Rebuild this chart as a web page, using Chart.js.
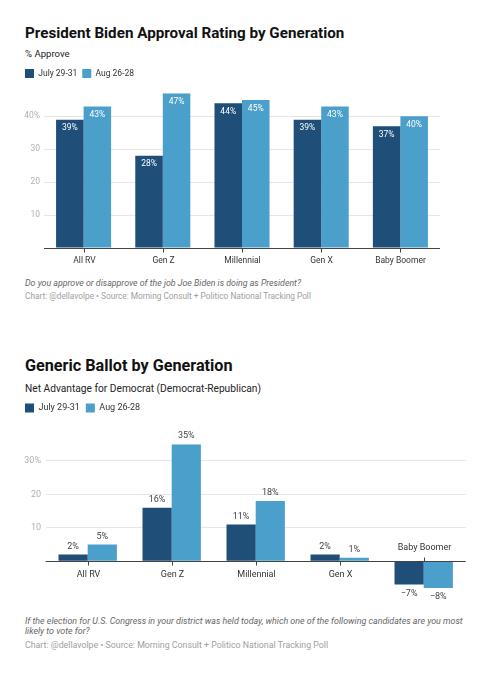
<!DOCTYPE html>
<html>
<head>
<meta charset="utf-8">
<script src="https://cdn.jsdelivr.net/npm/chart.js@4.4.1/dist/chart.umd.min.js"></script>
<style>
  body { margin: 0; background: #fff; font-family: Roboto, sans-serif; }
  #page { position: relative; width: 493px; height: 680px; overflow: hidden; }
  .t { position: absolute; left: 25px; white-space: nowrap; }
  .title { font-weight: 700; color: #111; }
  .sub { color: #222; }
  .note { font-style: italic; color: #666; }
  .src { color: #a0a0a0; }
  .box { position: absolute; left: 0; }
</style>
</head>
<body>
<div id="page">
  <div class="t title" style="top:23px;font-size:15.2px;line-height:20px;">President Biden Approval Rating by Generation</div>
  <div class="t sub" style="top:47px;font-size:9.6px;line-height:14px;">% Approve</div>
  <div class="box" style="top:60px;"><canvas id="approvalChart" width="493" height="210"></canvas></div>
  <div class="t note" style="top:276px;font-size:8.8px;line-height:14px;">Do you approve or disapprove of the job Joe Biden is doing as President?</div>
  <div class="t src" style="top:289px;font-size:8.3px;line-height:14px;">Chart: @dellavolpe • Source: Morning Consult + Politico National Tracking Poll</div>

  <div class="t title" style="top:356px;font-size:16.2px;line-height:20px;">Generic Ballot by Generation</div>
  <div class="t sub" style="top:382px;font-size:10.2px;line-height:14px;">Net Advantage for Democrat (Democrat-Republican)</div>
  <div class="box" style="top:393.5px;"><canvas id="ballotChart" width="493" height="215"></canvas></div>
  <div class="t note" style="top:616px;font-size:8.9px;line-height:10px;">If the election for U.S. Congress in your district was held today, which one of the following candidates are you most<br>likely to vote for?</div>
  <div class="t src" style="top:639px;font-size:8.8px;line-height:12px;">Chart: @dellavolpe • Source: Morning Consult + Politico National Tracking Poll</div>
</div>

<script>
// data
const generations = ['All RV', 'Gen Z', 'Millennial', 'Gen X', 'Baby Boomer'];
const seriesNames = ['July 29-31', 'Aug 26-28'];
const approveJuly = [39, 28, 44, 39, 37];
const approveAug = [43, 47, 45, 43, 40];
const ballotJuly = [2, 16, 11, 2, -7];
const ballotAug = [5, 35, 18, 1, -8];

const darkBlue = '#1f4e78';
const lightBlue = '#4b9fcb';

Chart.defaults.font.family = 'Roboto, sans-serif';
Chart.defaults.color = '#333';

// push the plot down a bit below the legend
const legendGap = {
    id: 'legendGap',
    beforeLayout(chart, args, opts) {
        let lg = chart.legend;
        if (lg && !lg._gapPatched) {
            let fit = lg.fit;
            lg.fit = function () {
                fit.call(this);
                this.height += opts.gap;
            };
            lg._gapPatched = true;
        }
    }
};

// zero line, category labels and value labels
const axisAndLabels = {
    id: 'axisAndLabels',
    afterDatasetsDraw(chart, args, opts) {
        let ctx = chart.ctx;
        let xs = chart.scales.x, ys = chart.scales.y;
        let zero = Math.round(ys.getPixelForValue(0)) + 0.5;
        ctx.save();
        ctx.strokeStyle = '#444';
        ctx.lineWidth = 1;
        ctx.beginPath();
        ctx.moveTo(chart.chartArea.left, zero);
        ctx.lineTo(chart.chartArea.right, zero);
        ctx.stroke();

        ctx.textAlign = 'center';
        ctx.textBaseline = 'middle';
        ctx.font = opts.catSize + 'px Roboto';
        ctx.fillStyle = '#333';
        chart.data.labels.forEach((lab, i) => {
            let cx = Math.round(xs.getPixelForValue(i)) + 0.5;
            let neg = chart.data.datasets.every(d => d.data[i] < 0);
            let dir = neg ? -1 : 1;
            ctx.beginPath();
            ctx.moveTo(cx, zero);
            ctx.lineTo(cx, zero + dir * 4);
            ctx.stroke();
            ctx.fillText(lab, cx, zero + dir * opts.catOffset);
        });

        ctx.font = opts.valSize + 'px Roboto';
        chart.data.datasets.forEach((ds, di) => {
            let meta = chart.getDatasetMeta(di);
            meta.data.forEach((bar, i) => {
                let v = ds.data[i];
                let txt = (v < 0 ? '\u2212' + Math.abs(v) : v) + '%';
                let ty;
                if (opts.inside) {
                    ctx.fillStyle = '#fff';
                    ty = bar.y + 8.5;
                } else {
                    ctx.fillStyle = '#444';
                    ty = v < 0 ? bar.y + 9 : bar.y - 8;
                }
                ctx.fillText(txt, bar.x, ty);
            });
        });
        ctx.restore();
    }
};

function makeChart(id, julyVals, augVals, cfg) {
    let allVals = julyVals.concat(augVals);
    let yMin = Math.min(0, ...allVals);
    let yMax = Math.max(...allVals);
    let topTick = Math.floor(yMax / 10) * 10;
    let ctx = document.getElementById(id).getContext('2d');
    return new Chart(ctx, {
        type: 'bar',
        data: {
            labels: generations,
            datasets: [{
                label: seriesNames[0],
                data: julyVals,
                backgroundColor: darkBlue,
                borderWidth: 0,
                barPercentage: 1,
                categoryPercentage: 0.695
            }, {
                label: seriesNames[1],
                data: augVals,
                backgroundColor: lightBlue,
                borderWidth: 0,
                barPercentage: 1,
                categoryPercentage: 0.695
            }]
        },
        options: {
            responsive: false,
            animation: false,
            layout: { padding: cfg.padding },
            plugins: {
                legend: {
                    position: 'top',
                    align: 'start',
                    labels: {
                        boxWidth: 9,
                        boxHeight: 9,
                        padding: cfg.legendPad,
                        color: '#333',
                        font: { size: cfg.legendSize }
                    }
                },
                tooltip: { enabled: false },
                legendGap: { gap: cfg.gap },
                axisAndLabels: {
                    inside: cfg.inside,
                    catSize: cfg.catSize,
                    catOffset: cfg.catOffset,
                    valSize: cfg.valSize
                }
            },
            scales: {
                x: { display: false },
                y: {
                    min: yMin,
                    max: yMax,
                    afterFit(scale) { scale.width = cfg.yWidth; },
                    afterBuildTicks(scale) {
                        scale.ticks = scale.ticks.filter(t => t.value % 10 === 0);
                    },
                    border: { display: false },
                    grid: {
                        drawTicks: false,
                        color: c => c.tick && c.tick.value === 0 ? 'rgba(0,0,0,0)' : '#e6e6e6'
                    },
                    ticks: {
                        stepSize: 10,
                        padding: cfg.tickPad,
                        color: '#b0b0b0',
                        font: { size: cfg.catSize },
                        callback: v => v === 0 ? '' : (v === topTick ? v + '%' : v)
                    }
                }
            }
        },
        plugins: [legendGap, axisAndLabels]
    });
}

// legend top = pad.top, legend box starts at pad.left + legendPad (x=25)
makeChart('approvalChart', approveJuly, approveAug, {
    padding: { top: 4, left: 20, right: 53, bottom: 22 },
    legendPad: 5, legendSize: 8.5, gap: 5.3,
    yWidth: 24, tickPad: 4,
    inside: true, catSize: 8.5, catOffset: 12, valSize: 8.5
});

makeChart('ballotChart', ballotJuly, ballotAug, {
    padding: { top: 3.5, left: 19, right: 27.3, bottom: 21.1 },
    legendPad: 6, legendSize: 9, gap: 21.7,
    yWidth: 26.7, tickPad: 4.7,
    inside: false, catSize: 9, catOffset: 13.3, valSize: 9
});
</script>
</body>
</html>
